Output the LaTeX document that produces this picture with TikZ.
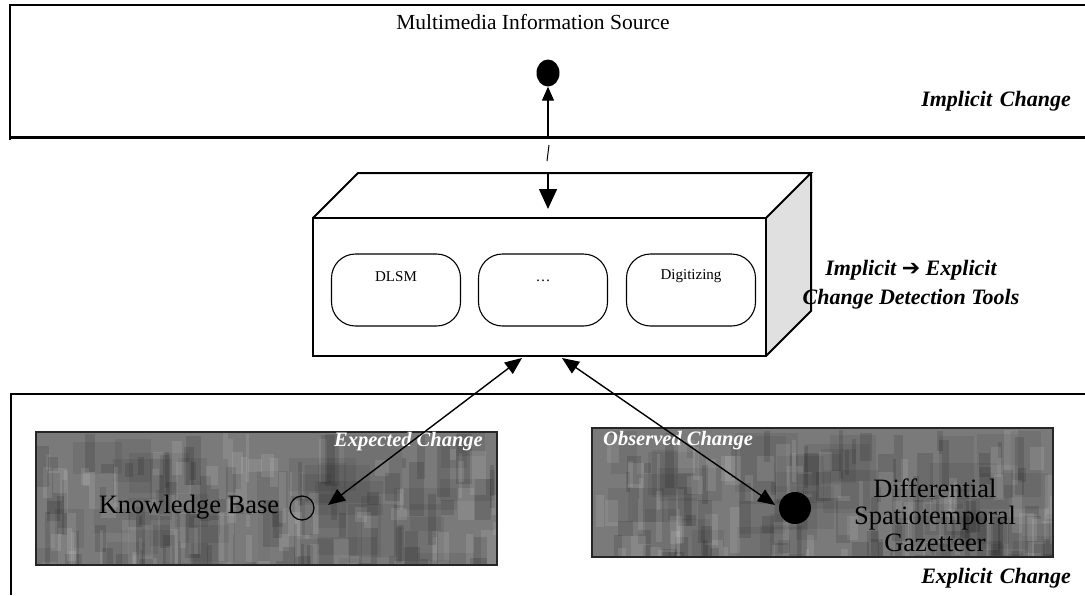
\documentclass[tikz,border=0pt]{standalone}
\usepackage{fontspec}
\setmainfont{Liberation Serif}
\newfontfamily\symfont{DejaVu Sans}
\usetikzlibrary{arrows.meta,shapes.geometric}

\tikzset{
  frame/.style={line width=2.6pt},
  boxline/.style={line width=2pt, line join=miter},
  tool/.style={draw, line width=1.1pt, rounded corners=24pt,
    minimum width=129pt, minimum height=72pt, inner sep=0pt},
  tooltext/.style={font=\fontsize{15}{17}\selectfont, inner sep=0pt},
  region/.style={font=\fontsize{22}{29}\selectfont\bfseries\itshape, inner sep=0pt},
  plain/.style={font=\fontsize{21.5}{24}\selectfont, inner sep=0pt},
  big/.style={font=\fontsize{26.5}{27}\selectfont, inner sep=0pt},
  inbox/.style={font=\fontsize{20.5}{22}\selectfont\bfseries\itshape, text=white, inner sep=0pt},
  gbox/.style={fill=black!52, draw=black!85, line width=1.2pt},
  link/.style={line width=1.4pt, {Triangle[length=17pt,width=14pt]}-{Triangle[length=17pt,width=14pt]}},
}

% mottled grey panel
\newcommand{\mottled}[4]{%
  \fill[gbox] (#1,#2) rectangle (#3,#4);
  \begin{scope}
    \clip (#1,#2) rectangle (#3,#4);
    \foreach \k in {1,...,40}{%
      \pgfmathsetmacro{\xx}{#1+(#3-#1)*rnd}%
      \pgfmathsetmacro{\yy}{#2+(#4-#2)*rnd}%
      \pgfmathsetmacro{\ww}{20+50*rnd}%
      \pgfmathsetmacro{\hh}{20+50*rnd}%
      \fill[black, opacity=0.07] (\xx,\yy) rectangle ++(\ww,\hh);
    }
    \foreach \k in {1,...,160}{%
      \pgfmathsetmacro{\xx}{#1+(#3-#1)*rnd}%
      \pgfmathsetmacro{\yy}{#2+(#4-#2)*rnd}%
      \pgfmathsetmacro{\ww}{3+14*rnd}%
      \pgfmathsetmacro{\hh}{10+50*rnd}%
      \pgfmathsetmacro{\tone}{rnd>0.5 ? 1 : 0}%
      \ifdim\tone pt>0.5pt
        \fill[white, opacity=0.10] (\xx,\yy) rectangle ++(\ww,\hh);
      \else
        \fill[black, opacity=0.12] (\xx,\yy) rectangle ++(\ww,\hh);
      \fi
    }
    \draw[gbox, fill=none] (#1,#2) rectangle (#3,#4);
  \end{scope}
}

\begin{document}
\begin{tikzpicture}[x=1pt, y=-1pt]
\useasboundingbox (0,0) rectangle (1085,595);
\pgfmathsetseed{11}

% ---- implicit change region ----
\draw[frame] (1085,5) -- (10,5) -- (10,140);
\draw[frame] (9,137.5) -- (1085,137.5);
\node[plain] (srctext) at (533,22) {Multimedia Information Source};
\node[ellipse, fill=black, minimum width=23pt, minimum height=27pt, inner sep=0pt] (src) at (548,73) {};
\node[region, anchor=east] (impl) at (1071,101) {Implicit\hspace{0.35em}Change};

% ---- change detection tools (3D box) ----
\fill[black!12] (766,218) -- (811,173) -- (811,311) -- (766,356) -- cycle;
\draw[boxline] (313,218) rectangle (766,356);
\draw[boxline] (313,218) -- (358,173) -- (811,173) -- (766,218);
\draw[boxline] (811,173) -- (811,311) -- (766,356);
\coordinate (toolsin) at (548,209);
\coordinate (toolstop) at (548,173);

\node[tool] (dlsm) at (396,290) {};
\node[tool] (dots) at (543,290) {};
\node[tool] (digi) at (691,290) {};
\node[tooltext] (dlsmtext) at (396,277) {DLSM};
\node[tooltext, anchor=base] (dotstext) at (543,281) {\dots};
\node[tooltext] (digitext) at (691,276) {Digitizing};

\node[region, align=center] (tools) at (911,285)
  {Implicit {\symfont\bfseries\upshape ➔} Explicit\\Change Detection Tools};

% ---- connector between source and tools ----
\coordinate (srcfoot) at (548,137.5);
\draw[line width=1.4pt, -{Triangle[length=14pt,width=12pt]}] (srcfoot) -- (src.south);
\coordinate (gapa) at (549,145);
\coordinate (gapb) at (547,161);
\draw[line width=1pt] (gapa) -- (gapb);
\draw[line width=1.4pt, -{Triangle[length=20pt,width=18pt]}] (toolstop) -- (toolsin);

% ---- explicit change region ----
\draw[frame] (1085,394) -- (11,394) -- (11,595);

\mottled{36}{432}{497}{565}
\mottled{592}{428}{1053}{557}

\node[big] (kbtext) at (189,507) {Knowledge Base};
\node[circle, draw=black, line width=1.2pt, minimum size=24pt, inner sep=0pt] (kb) at (302,508) {};
\node[inbox, anchor=east] (exptext) at (483,442) {Expected Change};

\node[inbox, anchor=west] (obstext) at (603,441) {Observed Change};
\node[circle, fill=black, minimum size=32pt, inner sep=0pt] (dsg) at (795,508) {};
\node[big, align=center] (dsgtext) at (935,515) {Differential\\Spatiotemporal\\Gazetteer};

\node[region, anchor=east] (expl) at (1071,578) {Explicit\hspace{0.35em}Change};

% ---- links from tools to knowledge base and gazetteer ----
\coordinate (kbtip) at (328,505);
\coordinate (toolsa) at (522,358);
\coordinate (toolsb) at (562,358);
\coordinate (dsgtip) at (775,505);
\draw[link] (kbtip) -- (toolsa);
\draw[link] (toolsb) -- (dsgtip);
\end{tikzpicture}
\end{document}
